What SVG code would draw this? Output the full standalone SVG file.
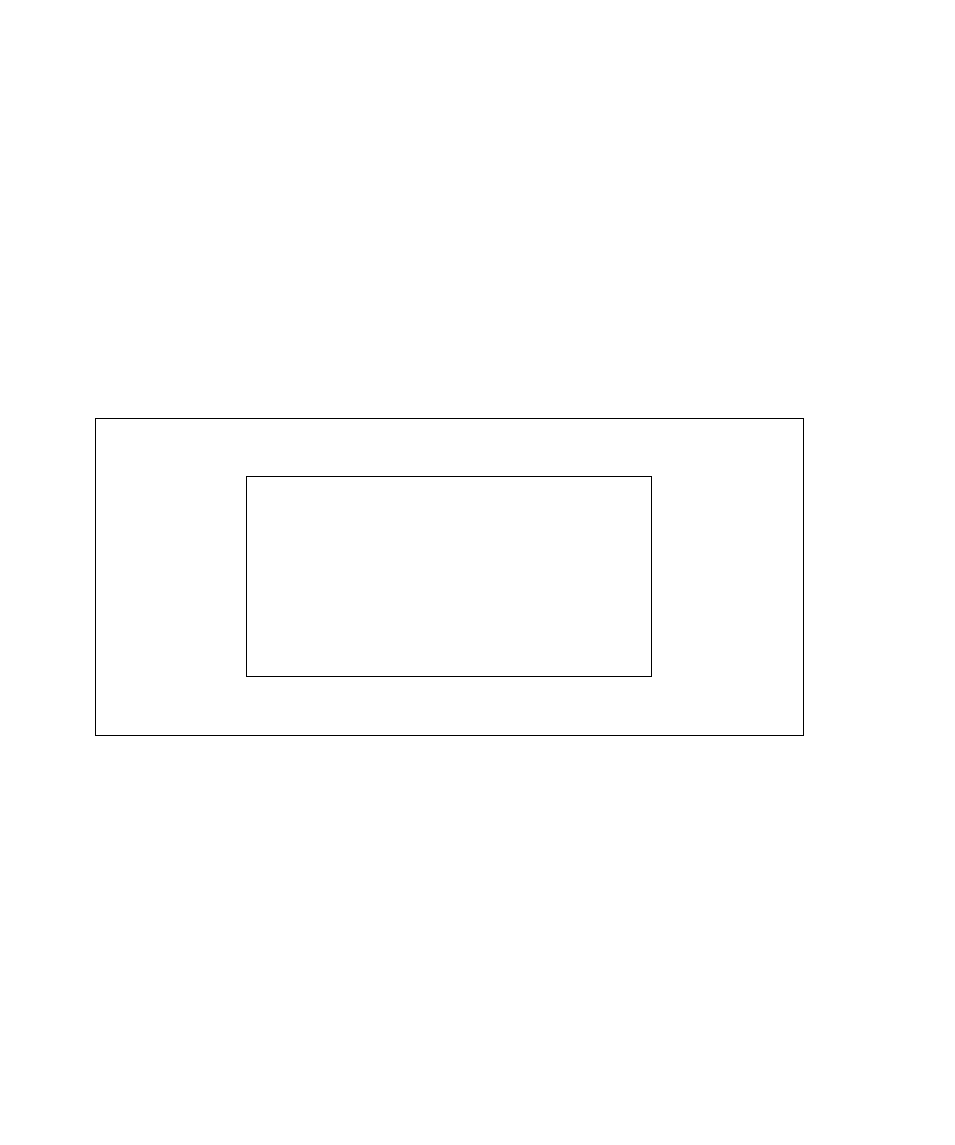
<svg xmlns="http://www.w3.org/2000/svg" width="955" height="1145" viewBox="0 0 955 1145">
<style>.box{fill:none;stroke:#000;stroke-width:1}</style>
<rect width="955" height="1145" fill="#fff"/>
<g id="outer"><rect class="box" x="95.5" y="418.5" width="708" height="317"/></g>
<g id="inner"><rect class="box" x="246.5" y="476.5" width="405" height="200"/></g>
<g id="connectors"></g>
</svg>
